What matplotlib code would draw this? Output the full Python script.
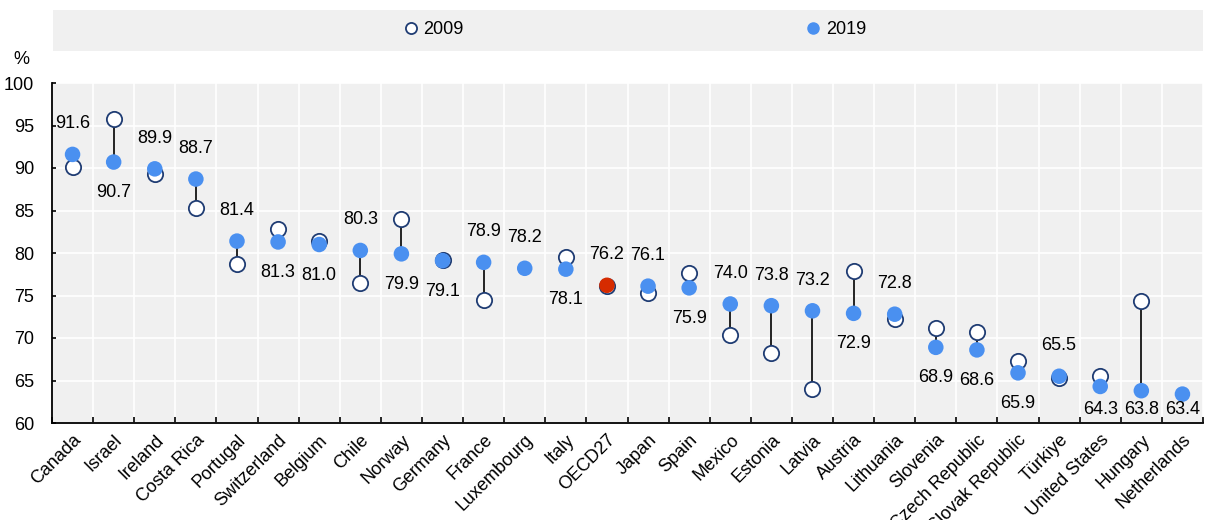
import numpy as np
import matplotlib
matplotlib.use("Agg")
import matplotlib.pyplot as plt
from matplotlib.lines import Line2D
from matplotlib.patches import Rectangle

plt.rcParams["font.family"] = ["Liberation Sans", "DejaVu Sans"]

# --- data -------------------------------------------------------------------
countries = [
    "Canada", "Israel", "Ireland", "Costa Rica", "Portugal", "Switzerland",
    "Belgium", "Chile", "Norway", "Germany", "France", "Luxembourg", "Italy",
    "OECD27", "Japan", "Spain", "Mexico", "Estonia", "Latvia", "Austria",
    "Lithuania", "Slovenia", "Czech Republic", "Slovak Republic", "Türkiye",
    "United States", "Hungary", "Netherlands",
]
v2009 = [
    90.1, 95.8, 89.3, 85.3, 78.7, 82.8,
    81.4, 76.5, 84.0, 79.2, 74.5, np.nan, 79.5,
    76.1, 75.3, 77.7, 70.3, 68.2, 64.0, 77.9,
    72.2, 71.2, 70.7, 67.3, 65.3,
    65.5, 74.3, np.nan,
]
v2019 = [
    91.6, 90.7, 89.9, 88.7, 81.4, 81.3,
    81.0, 80.3, 79.9, 79.1, 78.9, 78.2, 78.1,
    76.2, 76.1, 75.9, 74.0, 73.8, 73.2, 72.9,
    72.8, 68.9, 68.6, 65.9, 65.5,
    64.3, 63.8, 63.4,
]
highlight = "OECD27"
labels_below = {"Netherlands"}

BLUE = "#4a90f0"
NAVY = "#1f3c73"
RED = "#d62b00"
BG = "#f0f0f0"

fig = plt.figure(figsize=(12.05, 5.2), dpi=100)
ax = fig.add_axes([52 / 1205, 1 - 423 / 520, 1151 / 1205, 340 / 520])
ax.set_facecolor(BG)

x = np.arange(len(countries))
a = np.array(v2009, dtype=float)
b = np.array(v2019, dtype=float)

# connectors
for xi, lo, hi in zip(x, a, b):
    if not np.isnan(lo):
        ax.plot([xi, xi], [lo, hi], color="black", lw=1.2, zorder=2)

ax.plot(x, a, ls="none", marker="o", ms=11, mfc="white", mec=NAVY, mew=1.3, zorder=3)
cols = [RED if c == highlight else BLUE for c in countries]
ax.scatter(x, b, s=125, c=cols, edgecolors="none", zorder=4)

# value labels: above/below the 2019 dot, kept inside the plot area
for xi, c, lo, hi in zip(x, countries, a, b):
    below = c in labels_below or (not np.isnan(lo) and hi < lo)
    ly = max(hi - 3.6, 61.6) if below else hi + 3.6
    ax.text(xi, ly, f"{hi:.1f}", ha="center", va="center", fontsize=13, zorder=5)

ax.set_xlim(-0.5, len(countries) - 0.5)
ax.set_ylim(60, 100)
ax.set_yticks(np.arange(60, 101, 5))
ax.set_xticks(x)
ax.set_xticklabels(countries, rotation=45, ha="right", rotation_mode="anchor")
ax.set_xticks(np.arange(-0.5, len(countries), 1.0), minor=True)

ax.tick_params(axis="x", which="major", length=0, labelsize=13, pad=6)
ax.tick_params(axis="x", which="minor", length=4, width=1.2, direction="in")
ax.tick_params(axis="y", length=3, width=1.2, direction="in", labelsize=13, pad=13)

ax.grid(axis="y", which="major", color="white", lw=1.2)
ax.grid(axis="x", which="minor", color="white", lw=1.2)
ax.set_axisbelow(True)

for s in ("top", "right"):
    ax.spines[s].set_visible(False)
for s in ("left", "bottom"):
    ax.spines[s].set_linewidth(1.3)

fig.text(21 / 1205, 1 - 59 / 520, "%", ha="center", va="center", fontsize=13)

# legend band
fig.patches.append(Rectangle((53 / 1205, 1 - 51 / 520), 1150 / 1205, 41 / 520,
                             transform=fig.transFigure, facecolor=BG, edgecolor="none", zorder=0))
handles = [
    Line2D([], [], ls="none", marker="o", ms=8, mfc="white", mec=NAVY, mew=1.3),
    Line2D([], [], ls="none", marker="o", ms=8, mfc=BLUE, mec=BLUE),
]
fig.legend(handles, ["2009", "2019"], ncol=2, loc="center",
           bbox_to_anchor=(635 / 1205, 1 - 30 / 520), frameon=False, fontsize=13,
           handlelength=0.8, handletextpad=0.3, columnspacing=18.95)

fig.savefig("out.png", dpi=100)
